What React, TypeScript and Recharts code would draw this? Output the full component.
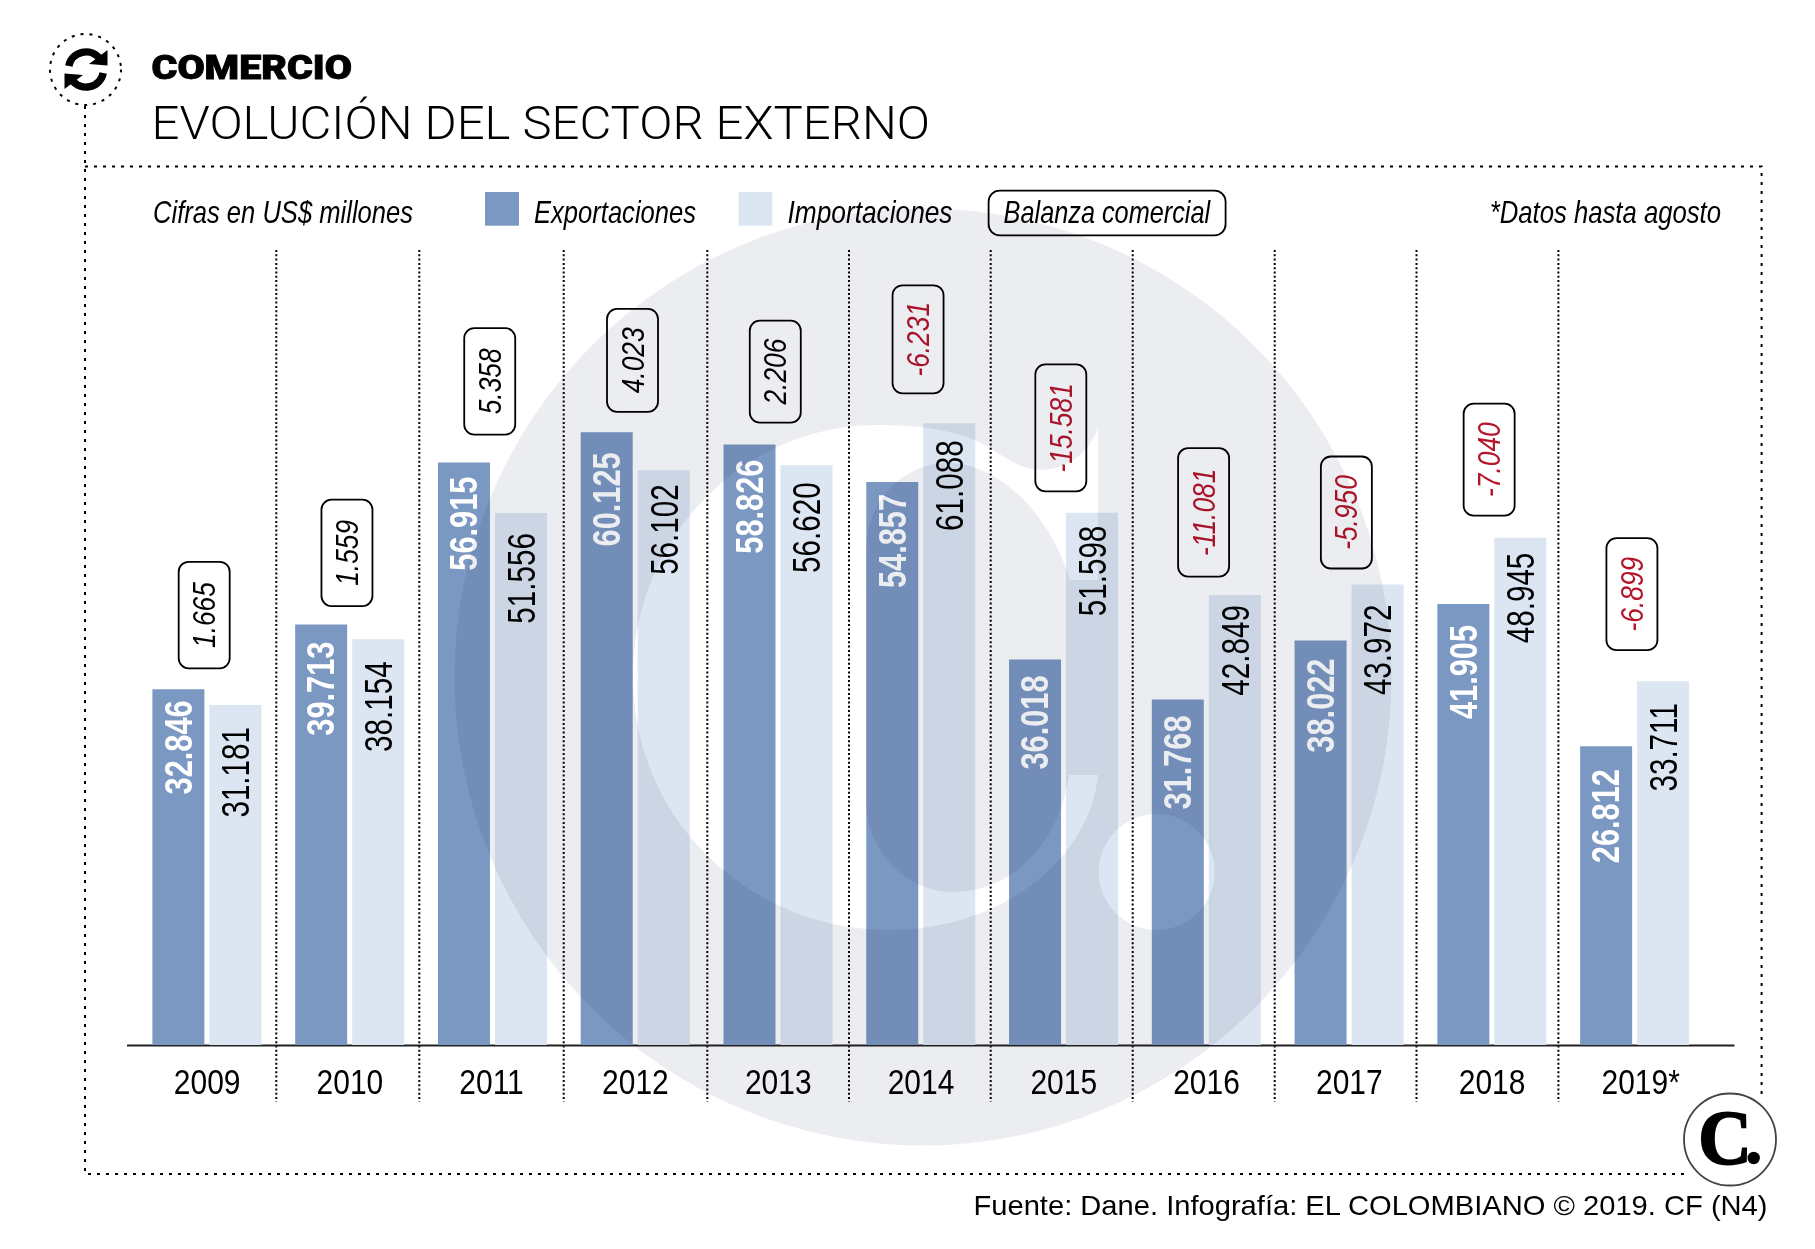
import React from "react";
import { ComposedChart, Bar, Line, XAxis, YAxis, LabelList } from "recharts";

const years = ["2009","2010","2011","2012","2013","2014","2015","2016","2017","2018","2019*"];
const exportaciones = [32846,39713,56915,60125,58826,54857,36018,31768,38022,41905,26812];
const importaciones = [31181,38154,51556,56102,56620,61088,51598,42849,43972,48945,33711];
const balanza = [1665,1559,5358,4023,2206,-6231,-15581,-11081,-5950,-7040,-6899];

// layout lists (label insets and callout geometry)
const expInset = [11,17,14,20,15,12,16,16,18,21,23];
const impInset = [22,22,20,14,17,17,13,10,20,15,22];
const calloutHeight = [106.5,106.5,106.5,103,102,108,127,128.5,112,112,112];
const calloutGap = [21,18.5,28,20.5,22,30,21.3,18.5,16,22,31];
const dividerX = [276.3,419.3,563.7,707.3,849,990.7,1132.7,1274.7,1416.5,1558.4];

const W = 1815, H = 1249;
const FLOOR = -4919, CEIL = 106027;
const EXP = "#7b98c2", IMP = "#dce5f2", RED = "#b5152b";
const SANS = "'Liberation Sans', Arial, sans-serif";
const LIGHT = "Roboto, 'Liberation Sans', sans-serif";

const rows = years.map((year, i) => ({
  year,
  exp: exportaciones[i],
  imp: importaciones[i],
  bal: balanza[i],
  top: Math.max(exportaciones[i], importaciones[i]),
}));

const fmt = (v: number) => String(v).replace(/\B(?=(\d{3})+$)/g, ".");

function T({ x, y, size, sx = 1, rot = 0, anchor = "start", weight = 400, italic = false, fill = "#000", family = SANS, len, stroke, strokeWidth, children }: any) {
  return (
    <text
      transform={`translate(${x} ${y}) rotate(${rot}) scale(${sx} 1)`}
      fontFamily={family}
      fontSize={size}
      fontWeight={weight}
      fontStyle={italic ? "italic" : "normal"}
      fill={fill}
      stroke={stroke}
      strokeWidth={strokeWidth}
      textAnchor={anchor}
      textLength={len}
      lengthAdjust={len ? "spacingAndGlyphs" : undefined}
    >
      {children}
    </text>
  );
}

const ExpLabel = (p: any) => {
  const { x, y, width, value, index } = p;
  return <T x={x + width / 2 + 13.3} y={y + expInset[index]} size={38} sx={0.81} rot={-90} anchor="end" weight={700} fill="#fff">{fmt(value)}</T>;
};
const ImpLabel = (p: any) => {
  const { x, y, width, value, index } = p;
  return <T x={x + width / 2 + 13.8} y={y + impInset[index]} size={38} sx={0.78} rot={-90} anchor="end">{fmt(value)}</T>;
};

const Callout = (p: any) => {
  const { cx, cy, index, payload } = p;
  const h = calloutHeight[index];
  const bottom = cy - calloutGap[index];
  const c = cx - 2.6;
  const w = 51;
  const neg = payload.bal < 0;
  return (
    <g key={payload.year}>
      <rect x={c - w / 2} y={bottom - h} width={w} height={h} rx={10} fill="none" stroke="#000" strokeWidth={1.8} />
      <T x={c + 11} y={bottom - h / 2} size={31} sx={0.85} rot={-90} anchor="middle" italic fill={neg ? RED : "#000"}>{fmt(payload.bal)}</T>
    </g>
  );
};

const YearTick = (p: any) => (
  <T x={p.x - 33} y={1094.3} size={35.7} sx={0.84}>{p.payload.value}</T>
);

function Decor() {
  return (
    <svg width={W} height={H} style={{ position: "absolute", left: 0, top: 0 }}>
      {/* frame */}
      <g fill="none" stroke="#000" strokeWidth={2} strokeDasharray="3 6">
        <path d="M85 106 L85 1174 L1690 1174" />
        <path d="M85 166.5 L1761.6 166.5 L1761.6 1096" />
        <circle cx={85.5} cy={69.5} r={35.5} />
      </g>
      {/* dividers */}
      {dividerX.map((x) => (
        <line key={x} x1={x} x2={x} y1={250} y2={1102} stroke="#000" strokeWidth={2} strokeDasharray="2 2.3" />
      ))}
      {/* baseline */}
      <line x1={127} x2={1734.5} y1={1045.5} y2={1045.5} stroke="#222" strokeWidth={2} />
      {/* icon */}
      <g fill="none" stroke="#000" strokeWidth={7.5}>
        <path d="M68.8 66 A17.5 17.5 0 0 1 100 59" />
        <path d="M103.2 73 A17.5 17.5 0 0 1 72 80" />
      </g>
      <path d="M107.5 50 L107.5 65.5 L89 64 Z" fill="#000" />
      <path d="M64.5 89 L64.5 73.5 L83 75 Z" fill="#000" />
      {/* headings */}
      <T x={151.5} y={78.5} size={33} weight={900} family={LIGHT} len={200.5} stroke="#000" strokeWidth={0.9}>COMERCIO</T>
      <T x={151.5} y={139} size={46} weight={300} family={LIGHT} len={778.5}>EVOLUCIÓN DEL SECTOR EXTERNO</T>
      {/* legend row */}
      <T x={153} y={223} size={32} italic len={260}>Cifras en US$ millones</T>
      <rect x={485} y={192} width={34} height={33.7} fill={EXP} />
      <T x={534} y={223} size={32} italic len={162}>Exportaciones</T>
      <rect x={738.6} y={192} width={33.6} height={33.7} fill={IMP} />
      <T x={787.5} y={223} size={32} italic len={165}>Importaciones</T>
      <rect x={988.6} y={190.7} width={237} height={44.6} rx={11} fill="none" stroke="#000" strokeWidth={1.8} />
      <T x={1003.6} y={223} size={32} italic len={206.5}>Balanza comercial</T>
      <T x={1489.7} y={223} size={32} italic len={231.3}>*Datos hasta agosto</T>
      {/* footer */}
      <T x={973.5} y={1215} size={28} len={794}>Fuente: Dane. Infografía: EL COLOMBIANO © 2019. CF (N4)</T>
    </svg>
  );
}

function Watermark() {
  return (
    <svg width={W} height={H} style={{ position: "absolute", left: 0, top: 0, mixBlendMode: "multiply", pointerEvents: "none" }}>
      <circle cx={923} cy={677} r={468.5} fill="#ecedf1" />
      <path
        fill="#fff"
        d="M877 425 C925 425 965 432 990 448 C1010 461 1025 470 1040 470 C1065 470 1088 455 1098 428 L1098 580 L1070 580 C1050 515 1000 463 947 463 C905 463 866 500 866 550 L866 800 C866 850 905 892 953 892 C1015 892 1060 840 1069 775 L1098 775 C1090 860 1000 930 890 930 C750 930 633 820 633 677 C633 535 745 425 877 425 Z"
      />
      <circle cx={1156.7} cy={872} r={58} fill="#fff" />
    </svg>
  );
}

function Logo() {
  return (
    <svg width={W} height={H} style={{ position: "absolute", left: 0, top: 0, pointerEvents: "none" }}>
      <ellipse cx={1730} cy={1139.5} rx={46} ry={46} fill="#fff" stroke="#444" strokeWidth={1.8} />
      <T x={1725} y={1164} size={78} weight={700} anchor="middle" family="'Liberation Serif', serif" sx={0.95} stroke="#000" strokeWidth={2}>C</T>
      <circle cx={1753.7} cy={1158} r={6.2} fill="#000" />
    </svg>
  );
}

export default function App() {
  return (
    <div style={{ position: "absolute", left: 0, top: 0, width: W, height: H, background: "#fff", isolation: "isolate", overflow: "hidden" }}>
      <Decor />
      <div style={{ position: "absolute", left: 0, top: 0 }}>
        <ComposedChart
          width={W}
          height={H}
          data={rows}
          margin={{ top: 0, right: 109.1, bottom: 144, left: 135.4 }}
          barSize={52}
          barGap={5}
        >
          <XAxis dataKey="year" height={60} axisLine={false} tickLine={false} interval={0} tick={YearTick} />
          <YAxis hide width={0} domain={[FLOOR, CEIL]} allowDataOverflow />
          <Bar dataKey={(d: any) => [FLOOR, d.exp]} name="Exportaciones" fill={EXP} isAnimationActive={false}>
            <LabelList dataKey="exp" content={ExpLabel} />
          </Bar>
          <Bar dataKey={(d: any) => [FLOOR, d.imp]} name="Importaciones" fill={IMP} isAnimationActive={false}>
            <LabelList dataKey="imp" content={ImpLabel} />
          </Bar>
          <Line dataKey="top" name="Balanza comercial" stroke="none" dot={Callout} activeDot={false} legendType="none" isAnimationActive={false} />
        </ComposedChart>
      </div>
      <Watermark />
      <Logo />
    </div>
  );
}
